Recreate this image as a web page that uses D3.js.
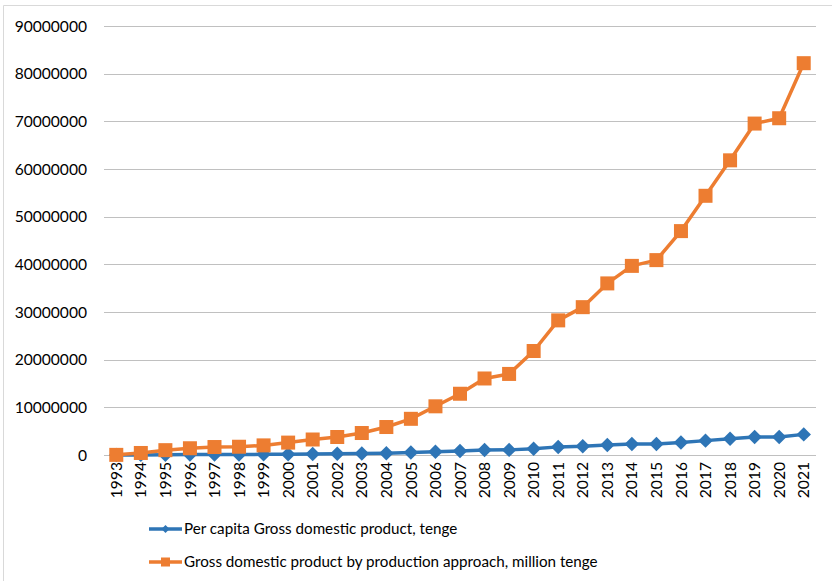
<!DOCTYPE html>
<html>
<head>
<meta charset="utf-8">
<script src="https://cdn.jsdelivr.net/npm/d3@7/dist/d3.min.js"></script>
<style>
  html, body { margin: 0; padding: 0; background: #fff; }
  svg { display: block; font-family: Lato, "Open Sans", sans-serif; }
</style>
</head>
<body>
<svg id="chart" width="832" height="581"></svg>
<script>
// Kazakhstan GDP, 1993–2021
const years = [1993, 1994, 1995, 1996, 1997, 1998, 1999, 2000, 2001, 2002,
  2003, 2004, 2005, 2006, 2007, 2008, 2009, 2010, 2011, 2012,
  2013, 2014, 2015, 2016, 2017, 2018, 2019, 2020, 2021];

// Per capita GDP, tenge
const perCapita = [1843, 25889, 63467, 89562, 107176, 112702, 134724, 174700,
  218800, 254655, 309560, 391788, 502433, 669837, 834155, 1028697, 1075300,
  1336200, 1703700, 1846800, 2111600, 2295600, 2331000, 2630000, 3015000,
  3392000, 3761000, 3762000, 4327000];

// GDP by production approach, million tenge
const gdpTotal = [29423, 423469, 1014190, 1415750, 1672143, 1733264, 2016456,
  2599902, 3250593, 3776277, 4611975, 5870135, 7590594, 10213731, 12849794,
  16052919, 17007647, 21815517, 28243053, 31015187, 35999025, 39675833,
  40884134, 46971150, 54378858, 61819536, 69532627, 70649033, 82200000];

const yTicks = [0, 10000000, 20000000, 30000000, 40000000, 50000000,
  60000000, 70000000, 80000000, 90000000];

const seriesNames = [
  "Per capita Gross domestic product, tenge",
  "Gross domestic product by production approach, million tenge"
];

const blue = "#2E75B6";
const orange = "#ED7D31";
const fontFamily = "Lato, 'Open Sans', sans-serif";
const axisFontSize = 15.6;
const legendFontSize = 15.2;

const svg = d3.select("#chart");

// chart frame (top and left edges)
svg.append("line").attr("x1", 3.5).attr("x2", 832).attr("y1", 5.5).attr("y2", 5.5)
  .attr("stroke", "#d9d9d9").attr("stroke-width", 1);
svg.append("line").attr("x1", 3.5).attr("x2", 3.5).attr("y1", 5.5).attr("y2", 581)
  .attr("stroke", "#d9d9d9").attr("stroke-width", 1);

const plot = { left: 104, right: 816, top: 26, bottom: 455 };

const x = d3.scaleBand().domain(years).range([plot.left, plot.right]);
const y = d3.scaleLinear().domain([0, 90000000]).range([plot.bottom, plot.top]);
const cx = d => x(d) + x.bandwidth() / 2;

// horizontal gridlines
svg.append("g").selectAll("line").data(yTicks).join("line")
  .attr("x1", plot.left).attr("x2", plot.right)
  .attr("y1", d => Math.round(y(d)) + 0.5).attr("y2", d => Math.round(y(d)) + 0.5)
  .attr("stroke", "#c0c0c0").attr("stroke-width", 1.2);

// y axis labels
const yAxis = d3.axisLeft(y).tickValues(yTicks).tickFormat(d3.format("d"))
  .tickSize(0).tickPadding(17);
const gy = svg.append("g").attr("transform", `translate(${plot.left},0)`).call(yAxis);
gy.select(".domain").remove();
gy.selectAll("text").attr("font-size", axisFontSize).attr("fill", "#000")
  .attr("font-family", fontFamily);

// x axis labels, rotated
const xAxis = d3.axisBottom(x).tickSize(0).tickPadding(0);
const gx = svg.append("g").attr("transform", `translate(0,${plot.bottom})`).call(xAxis);
gx.select(".domain").remove();
gx.selectAll("text")
  .attr("font-size", axisFontSize).attr("fill", "#000")
  .attr("font-family", fontFamily)
  .attr("transform", "rotate(-90)")
  .attr("text-anchor", "end")
  .attr("x", -7).attr("y", 0).attr("dy", "0.36em");

// lines
const lineGen = vals => d3.line()
  .x((d, i) => cx(years[i]))
  .y(d => y(d))(vals);

function drawSeries(vals, color, shape) {
  svg.append("path").attr("d", lineGen(vals))
    .attr("fill", "none").attr("stroke", color).attr("stroke-width", 3.5)
    .attr("stroke-linejoin", "round");
  const g = svg.append("g");
  if (shape === "square") {
    g.selectAll("rect").data(vals).join("rect")
      .attr("x", (d, i) => cx(years[i]) - 7).attr("y", d => y(d) - 7)
      .attr("width", 14).attr("height", 14)
      .attr("fill", color);
  } else {
    g.selectAll("path").data(vals).join("path")
      .attr("d", d3.symbol(d3.symbolSquare, 105)())
      .attr("transform", (d, i) => `translate(${cx(years[i])},${y(d)}) rotate(45)`)
      .attr("fill", color);
  }
}

drawSeries(perCapita, blue, "diamond");
drawSeries(gdpTotal, orange, "square");

// legend
const legend = svg.append("g");
const legendRows = [
  { name: seriesNames[0], color: blue, shape: "diamond", y: 529 },
  { name: seriesNames[1], color: orange, shape: "square", y: 562 }
];
legendRows.forEach(r => {
  legend.append("line").attr("x1", 149).attr("x2", 182)
    .attr("y1", r.y).attr("y2", r.y)
    .attr("stroke", r.color).attr("stroke-width", 3.5);
  if (r.shape === "square") {
    legend.append("rect").attr("x", 161).attr("y", r.y - 4.5)
      .attr("width", 9).attr("height", 9).attr("fill", r.color);
  } else {
    legend.append("path").attr("d", d3.symbol(d3.symbolSquare, 32)())
      .attr("transform", `translate(165.5,${r.y}) rotate(45)`)
      .attr("fill", r.color);
  }
  legend.append("text").attr("x", 184).attr("y", r.y).attr("dy", "0.36em")
    .attr("font-size", legendFontSize).attr("fill", "#000")
    .attr("font-family", fontFamily)
    .text(r.name);
});
</script>
</body>
</html>
